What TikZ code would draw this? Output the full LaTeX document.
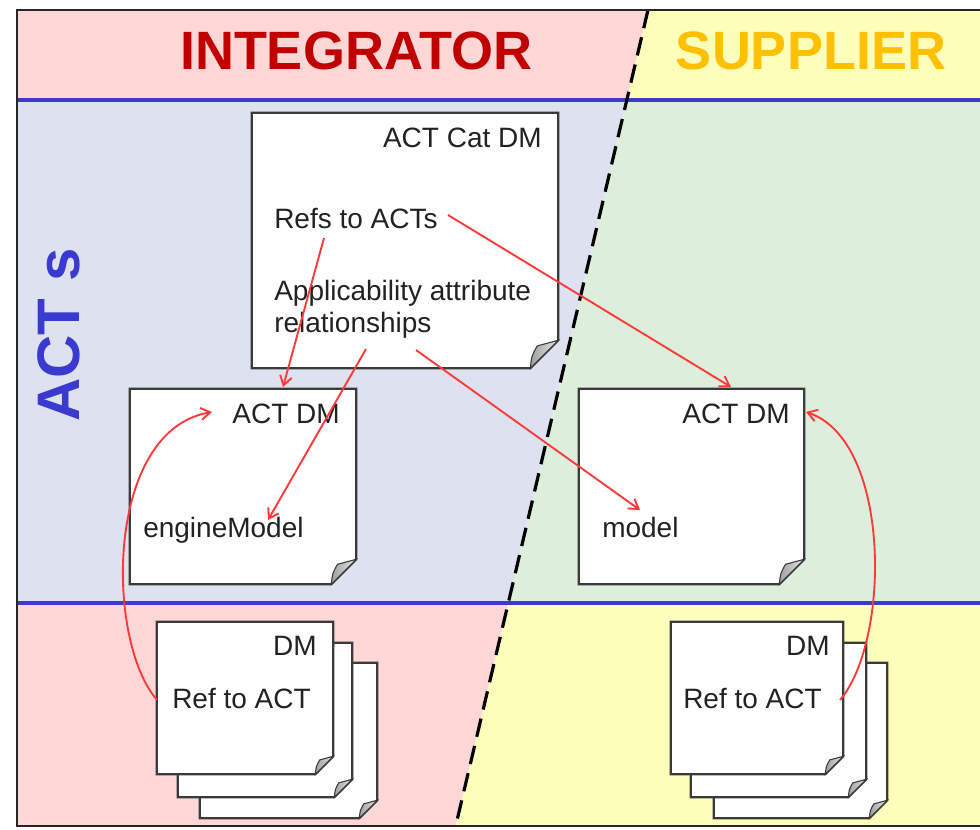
\documentclass[tikz,border=0pt]{standalone}
\usepackage{fontspec}
\setmainfont{Liberation Sans}
\usetikzlibrary{arrows.meta,calc,fit}

\definecolor{intpink}{HTML}{FFD7D7}
\definecolor{supyellow}{HTML}{FFFFBC}
\definecolor{actlav}{HTML}{DEE1EF}
\definecolor{actgreen}{HTML}{DDEEDC}
\definecolor{bandblue}{HTML}{3C3CCC}
\definecolor{intred}{HTML}{C00000}
\definecolor{supgold}{HTML}{FFC000}
\definecolor{actblue}{HTML}{3A3AD0}
\definecolor{refred}{HTML}{FF3838}
\definecolor{txtgray}{HTML}{222222}
\definecolor{edgegray}{HTML}{3A3A3A}

\tikzset{
  note/.style={rectangle, inner sep=0pt, draw=none},
  noteline/.style={fill=white, draw=edgegray, line width=1.6pt, line join=miter},
  body/.style={font=\fontsize{21}{25}\selectfont, text=txtgray, inner sep=0pt},
  title/.style={font=\fontsize{40.5}{44}\selectfont\bfseries, inner sep=0pt},
  refarrow/.style={draw=refred, line width=1.4pt,
    -{Straight Barb[length=7pt,width=9pt,line width=1.4pt]}},
  bandline/.style={draw=bandblue, line width=2.3pt},
}

% note sheet with a curled bottom-right corner; #2 = fold size
\newcommand\notefold[2]{%
  \filldraw[noteline] (#1.north west) -- (#1.north east)
    -- ($(#1.south east)+(0,-#2)$) -- ($(#1.south east)+(-#2,0)$)
    -- (#1.south west) -- cycle;
  \shade[left color=gray!75, right color=gray!20, draw=edgegray, line width=0.8pt]
    ($(#1.south east)+(-#2,0)$)
    .. controls ($(#1.south east)+(-0.95*#2,-0.45*#2)$) .. ($(#1.south east)+(-0.75*#2,-0.8*#2)$)
    -- ($(#1.south east)+(0,-#2)$) -- cycle;
}

\begin{document}
\begin{tikzpicture}[x=0.75pt,y=-0.75pt]
\useasboundingbox (0,0) rectangle (980,829);
\fill[white] (0,0) rectangle (980,829);

% colour bands on both sides of the boundary
\fill[intpink]   (17,10) -- (648,10) -- (626.8,100) -- (17,100) -- cycle;
\fill[supyellow] (648,10) -- (980,10) -- (980,100) -- (626.8,100) -- cycle;
\fill[actlav]    (17,100) -- (626.8,100) -- (508.2,603) -- (17,603) -- cycle;
\fill[actgreen]  (626.8,100) -- (980,100) -- (980,603) -- (508.2,603) -- cycle;
\fill[intpink]   (17,603) -- (508.2,603) -- (455.7,826) -- (17,826) -- cycle;
\fill[supyellow] (508.2,603) -- (980,603) -- (980,826) -- (455.7,826) -- cycle;

\draw[bandline] (17,100) -- (980,100);
\draw[bandline] (17,603) -- (980,603);

% organisation boundary
\draw[black, line width=2.4pt, dash pattern=on 14pt off 7pt] (648,10) -- (455.7,826);

% frame
\draw[black!85, line width=2pt] (980,10) -- (17,10) -- (17,826) -- (980,826);

% headings
\node[title, text=intred, anchor=base] (integ) at (356,69) {INTEGRATOR};
\node[title, text=supgold, anchor=base] (suppl) at (811,69) {SUPPLIER};
\node[font=\fontsize{45}{48}\selectfont\bfseries, text=actblue, inner sep=0pt,
      rotate=90] (acts) at (59,335) {ACT s};

% catalogue data module
\node[note, fit={(252,113) (558,368)}] (cat) {};
\notefold{cat}{28}

% ACT data modules
\node[note, fit={(130,389) (356,584)}] (actL) {};
\notefold{actL}{25}
\node[note, fit={(579,389) (804,584)}] (actR) {};
\notefold{actR}{25}

% stacks of data modules
\node[note, fit={(200,663) (377,818)}] (dmLc) {};
\notefold{dmLc}{18}
\node[note, fit={(178,643) (352,797)}] (dmLb) {};
\notefold{dmLb}{18}
\node[note, fit={(157,622) (333,774)}] (dmLa) {};
\notefold{dmLa}{18}

\node[note, fit={(714,663) (887,818)}] (dmRc) {};
\notefold{dmRc}{18}
\node[note, fit={(691,643) (866,797)}] (dmRb) {};
\notefold{dmRb}{18}
\node[note, fit={(671,622) (843,774)}] (dmRa) {};
\notefold{dmRa}{18}

% texts
\node[body, anchor=base east] (catT)  at (542,147) {ACT Cat DM};
\node[body, anchor=base west] (refs)  at (274,228) {Refs to ACTs};
\node[body, anchor=base west] (appl)  at (274,300) {Applicability attribute};
\node[body, anchor=base west] (rels)  at (274,332) {relationships};

\node[body, anchor=base east] (actLT) at (340,423) {ACT DM};
\node[body, anchor=base west] (engM)  at (143,537) {engineModel};
\node[body, anchor=base east] (actRT) at (790,423) {ACT DM};
\node[body, anchor=base west] (modl)  at (602,537) {model};

\node[body, anchor=base east] (dmLT)  at (317,655) {DM};
\node[body, anchor=base west] (refL)  at (172,708) {Ref to ACT};
\node[body, anchor=base east] (dmRT)  at (830,655) {DM};
\node[body, anchor=base west] (refR)  at (683,708) {Ref to ACT};

% connector ends
\coordinate (refsA) at (324,238);
\coordinate (refsB) at (448,215);
\coordinate (relsA) at (366,349);
\coordinate (relsB) at (416,350);
\coordinate (actLtop) at (283,387);
\coordinate (actRtop) at (731,387);
\coordinate (engIn) at (268,520);
\coordinate (modIn) at (640,510);
\coordinate (refLout) at (157,700);
\coordinate (refRout) at (840,700);
\coordinate (actLin) at (212,412);
\coordinate (actRin) at (806,412);

% references
\draw[refarrow] (refsA) -- (actLtop);
\draw[refarrow] (refsB) -- (actRtop);
\draw[refarrow] (relsA) -- (engIn);
\draw[refarrow] (relsB) -- (modIn);
\draw[refarrow] (refLout) .. controls (105,640) and (105,430) .. (actLin);
\draw[refarrow] (refRout) .. controls (891,640) and (891,440) .. (actRin);
\end{tikzpicture}
\end{document}
